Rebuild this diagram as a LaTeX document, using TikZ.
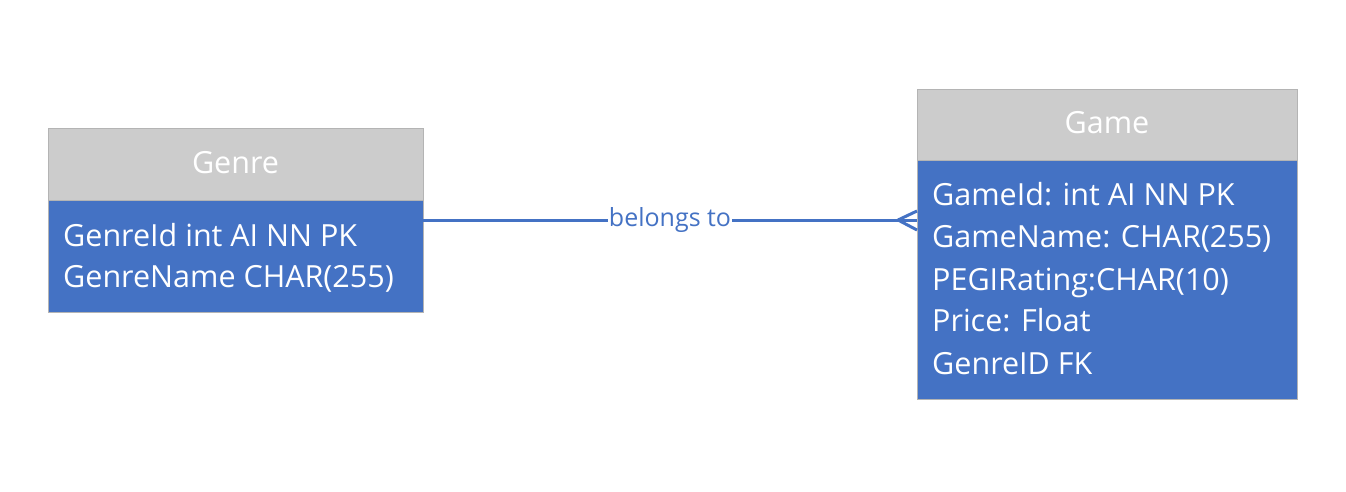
\documentclass[tikz,border=0pt]{standalone}
\usepackage{fontspec}
\setmainfont{Open Sans}
\definecolor{blueA}{HTML}{4472C4}
\definecolor{greyH}{HTML}{CCCCCC}
\definecolor{edgeC}{HTML}{B4B4B4}
\begin{document}
\begin{tikzpicture}[x=1pt,y=-1pt,
  hdr/.style={fill=greyH,draw=edgeC,line width=0.8pt},
  body/.style={fill=blueA,draw=edgeC,line width=0.8pt},
  rowtxt/.style={anchor=base west,inner sep=0pt,text=white,font=\fontsize{30.5}{36}\selectfont},
  hdrtxt/.style={anchor=base,inner sep=0pt,text=white,font=\fontsize{30.5}{36}\selectfont},
  rel/.style={draw=blueA,line width=3pt},
  lbl/.style={fill=white,text=blueA,inner sep=1pt,font=\fontsize{25}{30}\selectfont}]
\useasboundingbox (0,0) rectangle (1346,492);
% Genre
\draw[hdr] (48,128) rectangle (423,200);
\draw[body] (48,200) rectangle (423,312);
\coordinate (genreR) at (423,220);
\node[hdrtxt] (genreH) at (235.5,173) {Genre};
\node[rowtxt] (g1) at (63,246) {GenreId int AI NN PK};
\node[rowtxt] (g2) at (63,287) {GenreName CHAR(255)};
% Game
\draw[hdr] (917,89) rectangle (1297,160);
\draw[body] (917,160) rectangle (1297,399);
\coordinate (gameL) at (917,220);
\coordinate (crow) at (898,220);
\coordinate (crowT) at (917,211);
\coordinate (crowB) at (917,230);
\node[hdrtxt] (gameH) at (1107,134) {Game};
\node[rowtxt] (m1) at (932,205) {GameId: int AI NN PK};
\node[rowtxt] (m2) at (932,247) {GameName: CHAR(255)};
\node[rowtxt] (m3) at (932,290) {PEGIRating:CHAR(10)};
\node[rowtxt] (m4) at (932,331) {Price: Float};
\node[rowtxt] (m5) at (932,374) {GenreID FK};
% relation
\draw[rel] (genreR) -- node[lbl] (rl) {belongs to} (gameL);
\draw[rel] (crow) -- (crowT);
\draw[rel] (crow) -- (crowB);
\end{tikzpicture}
\end{document}
